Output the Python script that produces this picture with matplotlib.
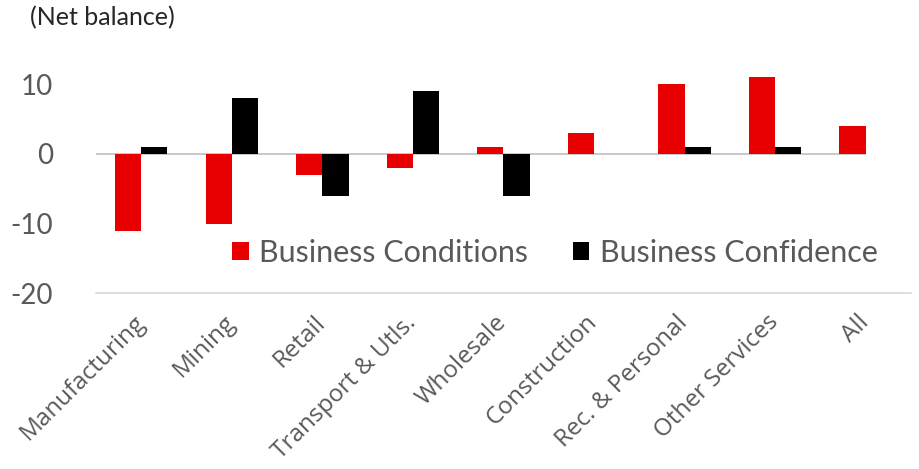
import numpy as np
import matplotlib.pyplot as plt

plt.rcParams['axes.unicode_minus'] = False

# Business survey by industry
industries = ['Manufacturing', 'Mining', 'Retail', 'Transport & Utls.', 'Wholesale',
              'Construction', 'Rec. & Personal', 'Other Services', 'All']
conditions = [-11, -10, -3, -2, 1, 3, 10, 11, 4]
confidence = [1, 8, -6, 9, -6, 0, 1, 1, 0]

grey = '#595959'
x = np.arange(len(industries))
w = 0.29

fig = plt.figure(figsize=(9.2, 4.69), dpi=100)
ax = fig.add_axes([0.1043, 0.3746, 0.8859, 0.52])

ax.bar(x - w / 2, conditions, w, color='#e80000', label='Business Conditions', zorder=3)
ax.bar(x + w / 2, confidence, w, color='black', label='Business Confidence', zorder=3)

# zero line and bottom gridline
ax.hlines(0, -0.5, 8.0, color='#bfbfbf', lw=1.2, zorder=2)
ax.set_xlim(-0.5, 8.5)
ax.set_ylim(-20, 15)
ax.set_yticks([-20, -10, 0, 10])
for s in ['top', 'right', 'left']:
    ax.spines[s].set_visible(False)
ax.spines['bottom'].set_color('#d9d9d9')
ax.spines['bottom'].set_linewidth(1.2)

ax.tick_params(axis='y', length=0, pad=31, labelsize=20, labelcolor=grey)
for t in ax.get_yticklabels():
    t.set_family('Lato')
ax.tick_params(axis='x', length=0)
ax.set_xticks(x)
ax.set_xticklabels(industries, rotation=45, ha='right', va='center',
                   rotation_mode='anchor', fontsize=17.5, color=grey, family='Open Sans')
for t in ax.get_xticklabels():
    t.set_y(-0.085)

fig.text(0.033, 0.962, '(Net balance)', fontsize=18, color='#262626', family='Lato',
         va='center', ha='left')

ax.legend(loc='center left', bbox_to_anchor=(0.133, 0.165), ncol=2, frameon=False,
          prop={'family': 'Lato', 'size': 22}, labelcolor=grey, handlelength=0.55,
          handleheight=0.55, handletextpad=0.35, columnspacing=1.45)

fig.savefig('out.png', dpi=100)
